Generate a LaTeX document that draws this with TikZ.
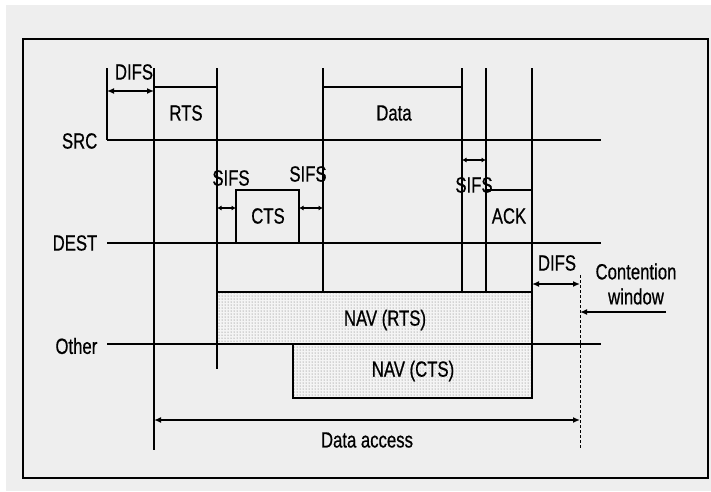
\documentclass[tikz,border=0pt]{standalone}
\usepackage{fontspec}
\setmainfont[FakeStretch=0.76,FakeBold=0.6]{Liberation Sans}
\usetikzlibrary{arrows.meta,patterns}
\definecolor{bgc}{HTML}{EEEEEE}
\definecolor{navc}{HTML}{F4F4F4}
\begin{document}
\begin{tikzpicture}[x=1pt,y=-1pt,line width=1.4pt,
  lbl/.style={font=\fontsize{22}{25}\selectfont,inner sep=0pt},
  dimarrow/.style={{Latex[length=7pt,width=6pt]}-{Latex[length=7pt,width=6pt]}},
  sifsarrow/.style={{Latex[length=4.5pt,width=5pt]}-{Latex[length=4.5pt,width=5pt]}},
  navbox/.style={draw,fill=navc},
  navdots/.style={pattern=dots,pattern color=black!60}]
\useasboundingbox (0,0) rectangle (711,491);
\fill[white] (0,0) rectangle (711,491);
\fill[bgc] (6,5) rectangle (711,491);
\draw (23,39) rectangle (708,478);
% coordinates of time marks
\coordinate (t0) at (107,68);
\coordinate (t1) at (154,68);
\coordinate (t2) at (217,68);
\coordinate (t3) at (323,68);
\coordinate (t4) at (462,68);
\coordinate (t5) at (486,68);
\coordinate (t6) at (532,68);
% NAV boxes
\path[navbox] (217,292) rectangle (532,344);
\fill[navdots] (217,292) rectangle (532,344);
\path[navbox] (293,344) rectangle (532,398);
\fill[navdots] (293,344) rectangle (532,398);
\draw (217,292) rectangle (532,344);
\draw (293,344) rectangle (532,398);
% station lines
\draw (107,140) -- (601,140);
\draw (107,243) -- (601,243);
\draw (107,344) -- (601,344);
\node[lbl,anchor=east] (src) at (98,141) {SRC};
\node[lbl,anchor=east] (dest) at (98,243) {DEST};
\node[lbl,anchor=east] (other) at (98,346) {Other};
% verticals
\draw (t0) -- (107,140);
\draw (t1) -- (154,450);
\draw (t2) -- (217,369);
\draw (t3) -- (323,292);
\draw (t4) -- (462,292);
\draw (t5) -- (486,292);
\draw (t6) -- (532,292);
% frames
\draw (154,87) -- (217,87);
\draw (323,87) -- (462,87);
\draw (236,243) -- (236,190) -- (299,190) -- (299,243);
\draw (486,190) -- (532,190);
\node[lbl] (rts) at (186,113) {RTS};
\node[lbl] (data) at (394,113) {Data};
\node[lbl] (cts) at (268,216) {CTS};
\node[lbl] (ack) at (509,216) {ACK};
% DIFS left
\draw[dimarrow] (107,91) -- (154,91);
\node[lbl] (difs1) at (134,72) {DIFS};
% SIFS
\draw[sifsarrow] (217,208) -- (236,208);
\node[lbl] (sifs1) at (231,178) {SIFS};
\draw[sifsarrow] (299,208) -- (323,208);
\node[lbl] (sifs2) at (308,174) {SIFS};
\draw[sifsarrow] (462,160) -- (486,160);
\node[lbl] (sifs3) at (474,185) {SIFS};
% NAV labels
\node[lbl] (navrts) at (385,320) {NAV (RTS)};
\node[lbl] (navcts) at (413,371) {NAV (CTS)};
% DIFS right & contention
\coordinate (cw) at (580,275);
\draw[line width=0.9pt,dash pattern=on 3pt off 2pt] (cw) -- (580,448);
\draw[dimarrow] (532,284) -- (580,284);
\node[lbl] (difs2) at (557,263) {DIFS};
\node[lbl,align=center] (cont) at (636,284) {Contention\\window};
\coordinate (cwa) at (666,312);
\draw[-{Latex[length=7pt,width=6pt]}] (cwa) -- (580,312);
% data access
\draw[dimarrow] (154,420) -- (580,420);
\node[lbl] (access) at (367,440) {Data access};
\end{tikzpicture}
\end{document}
